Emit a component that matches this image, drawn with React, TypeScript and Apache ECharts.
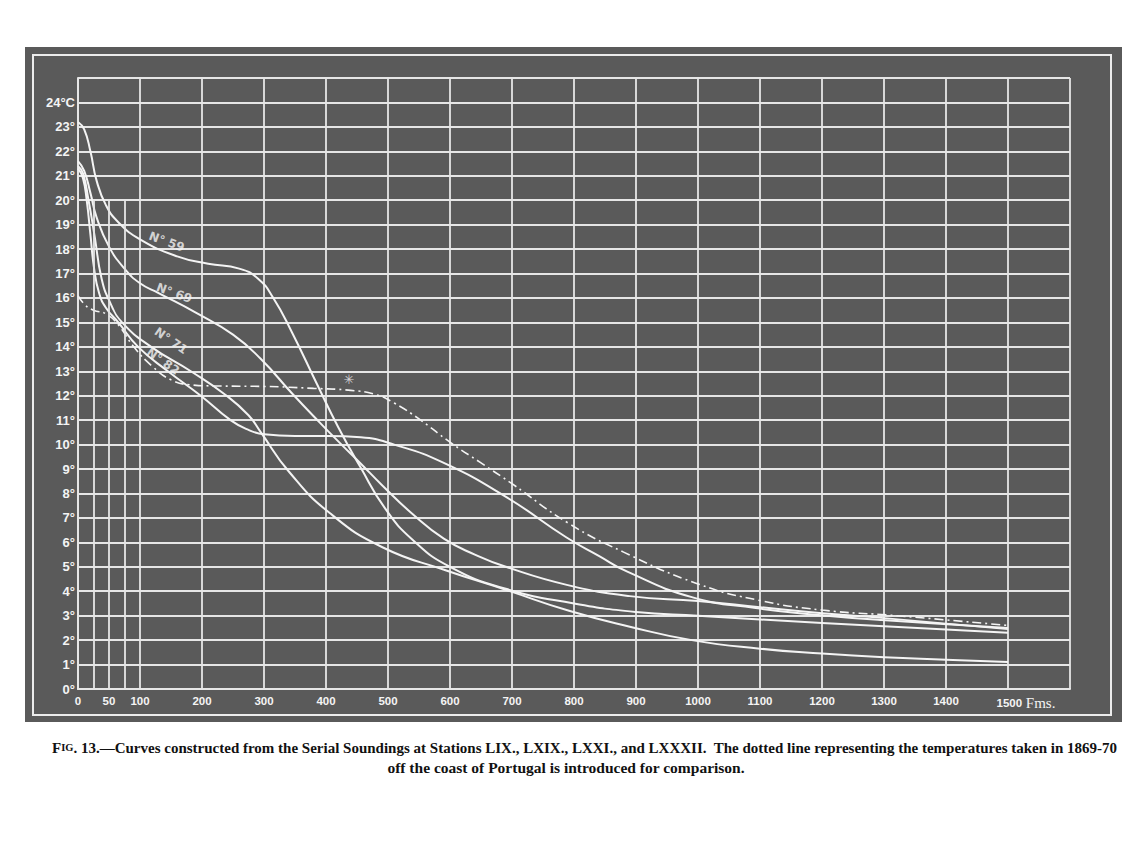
import React, { useEffect, useRef } from 'react';
import * as echarts from 'echarts';

// ---- DATA ----
const depthLabels = [0, 50, 100, 200, 300, 400, 500, 600, 700, 800, 900, 1000, 1100, 1200, 1300, 1400, 1500];
const shortVerticals = [25, 50, 75];
const shortVerticalTop = 20;

const st59 = [[0, 23.2], [10, 22.9], [20, 22.0], [30, 20.8], [45, 19.8], [65, 19.1], [100, 18.4], [160, 17.7], [210, 17.4], [260, 17.2], [290, 16.8], [315, 16.0], [345, 14.6], [385, 12.5], [420, 10.7], [455, 9.1], [495, 7.4], [540, 6.1], [600, 5.0], [690, 4.1], [800, 3.5], [900, 3.15], [1000, 3.0], [1200, 2.7], [1500, 2.3]];
const st69 = [[0, 21.6], [10, 21.2], [20, 20.3], [30, 19.3], [50, 18.1], [75, 17.2], [100, 16.6], [130, 16.2], [190, 15.4], [250, 14.5], [295, 13.5], [345, 12.1], [390, 10.9], [425, 10.0], [455, 9.25], [490, 8.35], [540, 7.15], [590, 6.15], [640, 5.5], [690, 5.0], [790, 4.25], [890, 3.8], [1000, 3.6], [1100, 3.35], [1200, 3.1], [1300, 2.9], [1500, 2.45]];
const st71 = [[0, 21.4], [8, 21.1], [17, 20.0], [27, 18.5], [38, 16.8], [52, 15.8], [71, 15.0], [118, 14.0], [182, 13.0], [237, 12.05], [275, 11.2], [295, 10.5], [340, 8.9], [406, 7.2], [491, 5.8], [594, 4.85], [691, 4.05], [792, 3.2], [890, 2.55], [990, 2.0], [1100, 1.65], [1200, 1.45], [1300, 1.3], [1400, 1.2], [1500, 1.1]];
const st82 = [[0, 21.3], [8, 20.9], [14, 20.0], [20, 18.6], [26, 17.2], [34, 16.2], [45, 15.6], [65, 15.0], [97, 14.0], [145, 13.0], [198, 12.0], [246, 11.0], [275, 10.6], [300, 10.42], [350, 10.35], [403, 10.35], [456, 10.3], [510, 10.0], [590, 9.25], [691, 7.85], [788, 6.2], [840, 5.45], [886, 4.8], [990, 3.76], [1093, 3.31], [1194, 3.03], [1296, 2.82], [1500, 2.5]];
const portugal = [[0, 16.1], [12, 15.7], [25, 15.5], [45, 15.35], [65, 14.9], [90, 14.0], [120, 13.2], [150, 12.65], [180, 12.45], [220, 12.4], [300, 12.38], [380, 12.3], [440, 12.22], [480, 12.05], [510, 11.7], [550, 11.05], [600, 10.1], [650, 9.25], [700, 8.4], [790, 6.8], [880, 5.6], [1000, 4.3], [1100, 3.62], [1200, 3.23], [1320, 3.0], [1500, 2.6]];

const curveNames = ['N° 59', 'N° 69', 'N° 71', 'N° 82'];
const labelAnchors = [[143, 18.3], [155, 16.2], [150, 14.25], [137, 13.4]];
const labelAngles = [-20, -20, -35, -35];
const starAnchor = [437, 12.65];

const captionHead = 'F';
const captionSmall = 'IG';
const captionLine1 = '. 13.—Curves constructed from the Serial Soundings at Stations LIX., LXIX., LXXI., and LXXXII.  The dotted line representing the temperatures taken in 1869-70';
const captionLine2 = 'off the coast of Portugal is introduced for comparison.';

const INK = '#f4f4f4';
const GRIDC = '#e6e6e6';

export default function App() {
  const ref = useRef<HTMLDivElement>(null);
  useEffect(() => {
    if (!ref.current) return;
    const chart = echarts.init(ref.current, null, { renderer: 'svg' });
    const curve = (name: string, data: number[][]) => ({
      name,
      type: 'line',
      data,
      smooth: 0.5,
      showSymbol: false,
      symbol: 'none',
      silent: true,
      lineStyle: { color: INK, width: 2 },
      z: 3,
    });
    const lbl = { color: INK, fontSize: 12, fontFamily: 'DejaVu Sans', fontWeight: 'bold' };
    const option: any = {
      animation: false,
      backgroundColor: '#ffffff',
      textStyle: { fontFamily: 'Liberation Sans' },
      graphic: [
        { type: 'rect', z: -20, silent: true, shape: { x: 25, y: 47, width: 1097, height: 675 }, style: { fill: '#5a5a5a' } },
        { type: 'rect', z: -19, silent: true, shape: { x: 33, y: 55, width: 1078, height: 660 }, style: { fill: 'none', stroke: '#ececec', lineWidth: 2 } },
        {
          type: 'text', x: 52, y: 740, silent: true,
          style: {
            text: '{b|' + captionHead + '}{s|' + captionSmall + '}{b|' + captionLine1 + '}',
            rich: {
              b: { fontFamily: 'Liberation Serif', fontWeight: 'bold', fontSize: 15, fill: '#111' },
              s: { fontFamily: 'Liberation Serif', fontWeight: 'bold', fontSize: 10.5, fill: '#111' },
            },
          },
        },
        {
          type: 'text', x: 566, y: 759, silent: true,
          style: { text: captionLine2, textAlign: 'center', fontFamily: 'Liberation Serif', fontWeight: 'bold', fontSize: 15.5, fill: '#111' },
        },
      ],
      grid: { left: 78, right: 66, top: 78, bottom: 163 },
      xAxis: {
        type: 'value', min: 0, max: 1600, interval: 100,
        axisLine: { show: true, lineStyle: { color: GRIDC, width: 2 } },
        axisTick: { show: false },
        splitLine: { show: true, lineStyle: { color: GRIDC, width: 1.8 } },
        axisLabel: {
          customValues: depthLabels,
          margin: 6,
          formatter: (v: number) => (v === 1500 ? '{sp|}{n|1500}{f| Fms.}' : '{n|' + v + '}'),
          rich: {
            n: { color: INK, fontWeight: 'bold', fontSize: 11.5, fontFamily: 'Liberation Sans' },
            f: { color: INK, fontSize: 15, fontFamily: 'Liberation Serif' },
            sp: { width: 36 },
          },
        },
      },
      yAxis: {
        type: 'value', min: 0, max: 25, interval: 1,
        axisLine: { show: true, lineStyle: { color: GRIDC, width: 2 } },
        axisTick: { show: false },
        splitLine: { show: true, lineStyle: { color: GRIDC, width: 1.8 } },
        axisLabel: {
          color: INK, fontWeight: 'bold', fontSize: 13, margin: 3,
          formatter: (v: number) => (v === 25 ? '' : v === 24 ? '24°C' : v + '°'),
        },
      },
      series: [
        curve('59', st59),
        curve('69', st69),
        curve('71', st71),
        curve('82', st82),
        {
          name: 'Portugal',
          type: 'line',
          data: portugal,
          smooth: 0.5,
          showSymbol: false,
          symbol: 'none',
          silent: true,
          lineStyle: { color: INK, width: 1.6, type: [9, 4, 2, 4] },
          z: 3,
          markLine: {
            silent: true,
            symbol: ['none', 'none'],
            label: { show: false },
            lineStyle: { color: GRIDC, width: 1.8, type: 'solid' },
            data: shortVerticals.map((v) => [{ coord: [v, 0] }, { coord: [v, shortVerticalTop] }]),
          },
        },
        {
          type: 'scatter',
          symbolSize: 0,
          silent: true,
          z: 4,
          itemStyle: { color: INK },
          label: { show: true, position: 'inside', ...lbl },
          data: [
            ...curveNames.map((t, i) => ({ value: labelAnchors[i], label: { show: true, position: 'inside', ...lbl, formatter: t, rotate: labelAngles[i] } })),
            { value: starAnchor, label: { show: true, position: 'inside', ...lbl, fontWeight: 'normal', formatter: '✳', fontSize: 13 } },
          ],
        },
      ],
    };
    chart.setOption(option);
    return () => chart.dispose();
  }, []);
  return <div ref={ref} style={{ position: 'absolute', left: 0, top: 0, width: 1136, height: 852 }} />;
}
